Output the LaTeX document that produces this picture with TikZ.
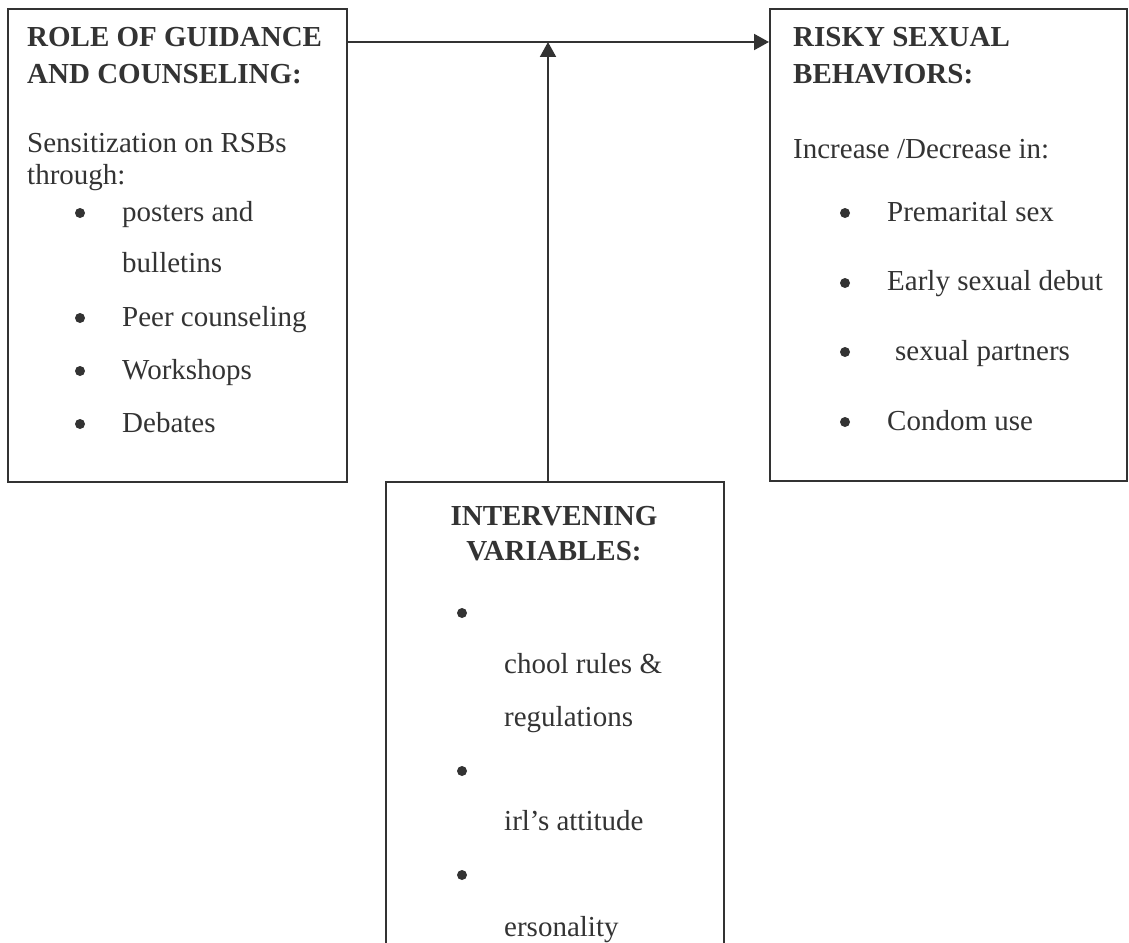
\documentclass[tikz,border=0pt]{standalone}
\usepackage{fontspec}
\setmainfont{Liberation Serif}
\usetikzlibrary{arrows.meta}
\definecolor{ink}{HTML}{333333}
\tikzset{
  box/.style={draw=ink, line width=2pt, rectangle, inner sep=0pt, anchor=north west},
  txt/.style={anchor=base west, inner sep=0pt, text=ink, font=\fontsize{29}{33}\selectfont},
  head/.style={txt, font=\fontsize{29}{33}\selectfont\bfseries},
  conn/.style={draw=ink, line width=2pt, -{Triangle[length=15pt, width=16pt]}},
  dot/.style={fill=ink}
}
\begin{document}
\begin{tikzpicture}[x=1pt, y=-1pt]
\useasboundingbox (0,0) rectangle (1129,942);
\begin{scope}
\clip (0,0) rectangle (1129,942);
% boxes
\node[box, minimum width=339pt, minimum height=473pt] (left) at (7,8) {};
\node[box, minimum width=357pt, minimum height=472pt] (right) at (769,8) {};
\node[box, minimum width=338pt, minimum height=520pt] (mid) at (385,481) {};
% connectors
\coordinate (join) at (548,42);
\draw[conn] (left.east |- join) -- (right.west |- join);
\draw[conn] (mid.north -| join) -- (join);
% left box text
\node[head] (l1) at (27,47) {ROLE OF GUIDANCE};
\node[head] (l2) at (27,83) {AND COUNSELING:};
\node[txt] (l3) at (27,152) {Sensitization on RSBs};
\node[txt] (l4) at (27,184) {through:};
\node[txt] (l5) at (122,221) {posters and};
\node[txt] (l6) at (122,272) {bulletins};
\node[txt] (l7) at (122,326) {Peer counseling};
\node[txt] (l8) at (122,379) {Workshops};
\node[txt] (l9) at (122,432) {Debates};
\foreach \y in {213,318,371,424} \fill[dot] (80,\y) circle (5);
% right box text
\node[head] (r1) at (793,47) {RISKY SEXUAL};
\node[head] (r2) at (793,83) {BEHAVIORS:};
\node[txt] (r3) at (793,158) {Increase /Decrease in:};
\node[txt] (r4) at (887,221) {Premarital sex};
\node[txt] (r5) at (887,290) {Early sexual debut};
\node[txt] (r6) at (895,360) {sexual partners};
\node[txt] (r7) at (887,430) {Condom use};
\foreach \y in {213,283,352,422} \fill[dot] (845,\y) circle (5);
% middle box text
\node[head, anchor=base] (m1) at (554,525) {INTERVENING};
\node[head, anchor=base] (m2) at (554,560) {VARIABLES:};
\node[txt] (m3) at (504,673) {chool rules \&};
\node[txt] (m4) at (504,726) {regulations};
\node[txt] (m5) at (504,830) {irl’s attitude};
\node[txt] (m6) at (504,936) {ersonality};
\foreach \y in {613,771,875} \fill[dot] (462,\y) circle (5);
\end{scope}
\end{tikzpicture}
\end{document}
